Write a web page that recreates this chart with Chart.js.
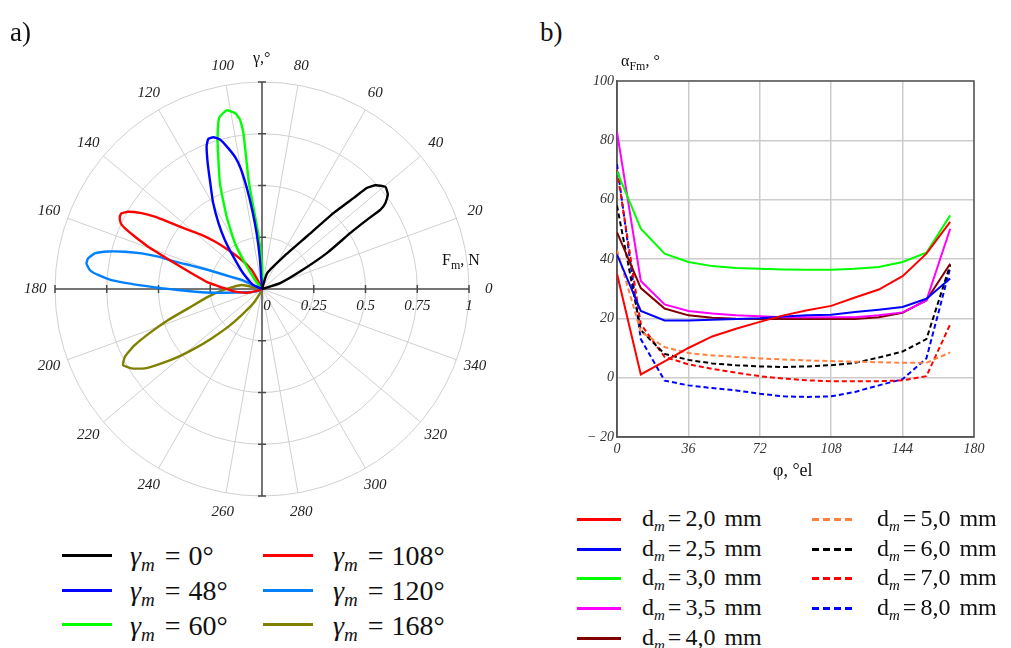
<!DOCTYPE html>
<html>
<head>
<meta charset="utf-8">
<script src="https://cdn.jsdelivr.net/npm/chart.js@4.4.0/dist/chart.umd.min.js"></script>
<style>
  body { margin: 0; background: #fff; }
  #page { position: relative; width: 1011px; height: 648px; overflow: hidden;
          font-family: "Liberation Serif", "Times New Roman", serif; color: #111; }
  canvas { position: absolute; }
  #polar { left: 0; top: 40px; }
  #curves { left: 580px; top: 60px; }
  .lbl { position: absolute; line-height: 1; white-space: nowrap; }
  .sub { position: relative; font-style: italic; }
  .sw { position: absolute; height: 3px; }
</style>
</head>
<body>
<div id="page">
  <canvas id="polar" width="530" height="500"></canvas>
  <canvas id="curves" width="420" height="420"></canvas>

  <div class="lbl" style="left:10px; top:19px; font-size:27px;">a)</div>
  <div class="lbl" style="left:540px; top:19px; font-size:27px;">b)</div>
  <div class="lbl" style="left:253px; top:50px; font-size:16px;">γ,°</div>
  <div class="lbl" style="left:442px; top:252px; font-size:16px;">F<span class="sub" style="font-style:normal; font-size:12px; top:4px;">m</span>, N</div>
  <div class="lbl" style="left:621px; top:53px; font-size:16px;">α<span class="sub" style="font-style:normal; font-size:12px; top:4px;">Fm</span>, °</div>
  <div class="lbl" style="left:773px; top:461px; font-size:18px;">φ, °el</div>

  <div id="legend-a"></div>
  <div id="legend-b"></div>
</div>

<script>
// Polar diagram: force lobes F_m(γ) for each rotor position γ_m
const gammaM = [0, 48, 60, 108, 120, 168];

const gamma0Angle = [10, 72, 56, 49.5, 46.7, 44.8, 43.9, 42.4, 39.6, 36.9, 34.9, 33.8, 33.4, 32.4, 29, 24.7, 18, 10];
const gamma0Force = [0, 0.08, 0.19, 0.335, 0.505, 0.625, 0.705, 0.743, 0.774, 0.76, 0.727, 0.689, 0.609, 0.506, 0.36, 0.204, 0.093, 0];

const gamma48Angle = [92, 94, 95.5, 97, 98.5, 100, 101.5, 103.5, 105.7, 107.8, 109.7, 111.2, 113.4, 116, 119.5, 123.5, 127, 131.5, 140, 155, 160];
const gamma48Force = [0, 0.15, 0.27, 0.38, 0.49, 0.59, 0.65, 0.70, 0.75, 0.77, 0.77, 0.74, 0.66, 0.57, 0.48, 0.38, 0.30, 0.21, 0.12, 0.05, 0];

const gamma60Angle = [85, 89, 94, 97, 96.8, 97.4, 98.7, 101.2, 104.1, 106.6, 111.7, 116, 120.6, 123.5, 128, 130];
const gamma60Force = [0, 0.1, 0.27, 0.52, 0.76, 0.825, 0.86, 0.88, 0.852, 0.752, 0.55, 0.39, 0.257, 0.149, 0.055, 0];

const gamma108Angle = [112, 116, 118.5, 125, 130.8, 134.8, 138.2, 141.3, 144, 146, 147.8, 150, 151.7, 153, 155, 156.1, 157.6, 159.6, 161.3, 163.6, 167.4, 173.3, 177.6, 185.6, 195, 201, 205];
const gamma108Force = [0, 0.048, 0.105, 0.171, 0.249, 0.323, 0.392, 0.457, 0.541, 0.625, 0.688, 0.747, 0.771, 0.771, 0.753, 0.725, 0.665, 0.587, 0.513, 0.439, 0.349, 0.261, 0.195, 0.131, 0.068, 0.022, 0];

const gamma120Angle = [150, 156, 159.3, 160.5, 161.6, 162.6, 162.7, 163.5, 164.8, 166.3, 168, 170, 171.7, 173.7, 175.1, 176.6, 177.6, 178.5, 179.6, 180.7, 182.3, 184.5, 187.7, 201, 205];
const gamma120Force = [0, 0.108, 0.191, 0.275, 0.359, 0.441, 0.525, 0.607, 0.687, 0.765, 0.826, 0.853, 0.857, 0.837, 0.795, 0.729, 0.647, 0.566, 0.485, 0.405, 0.324, 0.228, 0.132, 0.036, 0];

const gamma168Angle = [160, 168.9, 180.5, 188.1, 194.7, 198.3, 201.1, 203.8, 206.3, 208.7, 211.3, 214.1, 216.5, 219, 221.5, 224.4, 228.2, 232, 238.8, 245, 250];
const gamma168Force = [0, 0.1, 0.179, 0.262, 0.369, 0.477, 0.572, 0.672, 0.739, 0.765, 0.738, 0.684, 0.604, 0.521, 0.433, 0.341, 0.244, 0.16, 0.081, 0.023, 0];

const ringValues = [0.25, 0.5, 0.75, 1];
const ringLabels = ['0', '0.25', '0.5', '0.75', '1'];
const angleTicks = [0, 20, 40, 60, 80, 100, 120, 140, 160, 180, 200, 220, 240, 260, 280, 300, 320, 340];

// Angle of magnet field vs. electrical angle for each magnet diameter
const phi = [0, 12, 24, 36, 48, 60, 72, 84, 96, 108, 120, 132, 144, 156, 168];
const diameters = [2.0, 2.5, 3.0, 3.5, 4.0, 5.0, 6.0, 7.0, 8.0];
const alpha20 = [35, 1.1, 5.5, 10, 13.9, 16.5, 18.8, 21, 22.7, 24.2, 27, 29.7, 34.2, 41.8, 52.5];
const alpha25 = [41.5, 22.5, 19.3, 19.3, 19.5, 19.8, 20, 20.6, 21, 21.2, 22.1, 22.9, 23.8, 26.6, 33.4];
const alpha30 = [69.5, 50.2, 41.8, 39, 37.6, 37, 36.7, 36.5, 36.4, 36.4, 36.7, 37.3, 39, 42.1, 54.7];
const alpha35 = [82.8, 32.6, 24.7, 22.5, 21.6, 21, 20.7, 20.4, 20.4, 20.4, 20.4, 21, 22, 26, 50.2];
const alpha40 = [49, 30.2, 23.3, 21, 20.2, 19.9, 19.8, 19.8, 19.8, 19.8, 19.8, 20.4, 21.9, 26.1, 38.4];
const alpha50 = [43, 15.5, 10.3, 8.3, 7.5, 7, 6.5, 6.1, 5.8, 5.6, 5.4, 5.2, 5, 5, 8.5];
const alpha60 = [58, 16, 8, 6, 4.8, 4.2, 3.8, 3.6, 3.8, 4.2, 5, 6.8, 8.8, 13, 38];
const alpha70 = [70, 18, 7, 4.5, 3, 1.7, 0.5, -0.3, -0.9, -1.2, -1.2, -1.2, -0.9, 0.5, 18];
const alpha80 = [72, 13, -1, -2.6, -3.5, -4.3, -5.4, -6.3, -6.5, -6.3, -4.8, -2.6, -0.5, 6.5, 37];

// styles
const gammaColors = ['#000000', '#0000ff', '#00ff00', '#ff0000', '#0080ff', '#808000'];
const diamColors = ['#ff0000', '#0000ff', '#00ff00', '#ff00ff', '#800000', '#ff8040', '#000000', '#ff0000', '#0000ff'];
const diamDashed = [false, false, false, false, false, true, true, true, true];

function lobe(angles, forces) {
  return angles.map((a, i) => {
    const t = a * Math.PI / 180;
    return { x: forces[i] * Math.cos(t), y: forces[i] * Math.sin(t) };
  });
}

const lobes = [
  lobe(gamma0Angle, gamma0Force),
  lobe(gamma48Angle, gamma48Force),
  lobe(gamma60Angle, gamma60Force),
  lobe(gamma108Angle, gamma108Force),
  lobe(gamma120Angle, gamma120Force),
  lobe(gamma168Angle, gamma168Force)
];

const polarGrid = {
  id: "polarGrid",
  beforeDatasetsDraw(chart) {
    const { ctx } = chart;
    const xs = chart.scales.x, ys = chart.scales.y;
    const cx = xs.getPixelForValue(0), cy = ys.getPixelForValue(0);
    const R = xs.getPixelForValue(1) - cx;
    ctx.save();

    // rings and spokes
    ctx.strokeStyle = "#d0d0d0";
    ctx.lineWidth = 1;
    ringValues.forEach(v => {
      ctx.beginPath();
      ctx.arc(cx, cy, v * R, 0, 2 * Math.PI);
      ctx.stroke();
    });
    angleTicks.forEach(a => {
      if (a % 180 === 0) return;
      const t = a * Math.PI / 180;
      ctx.beginPath();
      ctx.moveTo(cx, cy);
      ctx.lineTo(cx + R * Math.cos(t), cy - R * Math.sin(t));
      ctx.stroke();
    });

    // main axes with ticks
    ctx.strokeStyle = "#4a4a4a";
    ctx.lineWidth = 1.5;
    ctx.beginPath();
    ctx.moveTo(cx - R, cy); ctx.lineTo(cx + R, cy);
    ctx.moveTo(cx, cy - R); ctx.lineTo(cx, cy + R);
    ringValues.forEach(v => {
      const d = v * R;
      ctx.moveTo(cx - d, cy - 4); ctx.lineTo(cx - d, cy + 4);
      ctx.moveTo(cx + d, cy - 4); ctx.lineTo(cx + d, cy + 4);
      ctx.moveTo(cx - 4, cy - d); ctx.lineTo(cx + 4, cy - d);
      ctx.moveTo(cx - 4, cy + d); ctx.lineTo(cx + 4, cy + d);
    });
    ctx.stroke();

    // angle labels
    ctx.fillStyle = "#222";
    ctx.font = 'italic 15px "Liberation Serif"';
    ctx.textAlign = "center";
    ctx.textBaseline = "middle";
    angleTicks.forEach(a => {
      const t = a * Math.PI / 180;
      ctx.fillText(String(a), cx + 1.095 * R * Math.cos(t), cy - 1.095 * R * Math.sin(t));
    });

    // radial labels
    [0].concat(ringValues).forEach((v, i) => {
      const px = xs.getPixelForValue(v) + (v === 0 ? 5 : 0);
      ctx.fillText(ringLabels[i], px, cy + 17);
    });
    ctx.restore();
  }
};

new Chart(document.getElementById("polar"), {
  type: "scatter",
  data: {
    datasets: lobes.map((pts, i) => ({
      label: "γm = " + gammaM[i] + "°",
      data: pts,
      showLine: true,
      fill: false,
      borderColor: gammaColors[i],
      borderWidth: 2.4,
      pointRadius: 0,
      tension: 0.15
    }))
  },
  options: {
    responsive: false,
    animation: false,
    layout: { padding: { left: 55, right: 61, top: 42, bottom: 44 } },
    plugins: { legend: { display: false }, tooltip: { enabled: false } },
    scales: {
      x: { type: "linear", min: -1, max: 1, display: false },
      y: { type: "linear", min: -1, max: 1, display: false }
    }
  },
  plugins: [polarGrid]
});

const alphaSeries = [alpha20, alpha25, alpha30, alpha35, alpha40, alpha50, alpha60, alpha70, alpha80];

const frame = {
  id: "frame",
  beforeDatasetsDraw(chart) {
    const { ctx, chartArea: a } = chart;
    ctx.save();
    ctx.strokeStyle = "#555";
    ctx.lineWidth = 1.5;
    ctx.strokeRect(a.left, a.top, a.right - a.left, a.bottom - a.top);
    ctx.restore();
  }
};

const tickFont = { family: "'Liberation Serif'", style: "italic", size: 14 };

new Chart(document.getElementById("curves"), {
  type: "line",
  data: {
    datasets: alphaSeries.map((vals, i) => ({
      label: "dm = " + diameters[i].toFixed(1).replace(".", ",") + " mm",
      data: phi.map((p, j) => ({ x: p, y: vals[j] })),
      borderColor: diamColors[i],
      borderWidth: 2,
      borderDash: diamDashed[i] ? [5, 3] : [],
      pointRadius: 0,
      fill: false,
      tension: 0
    }))
  },
  options: {
    responsive: false,
    animation: false,
    layout: { padding: { left: 0, right: 26, top: 21, bottom: 0 } },
    plugins: { legend: { display: false }, tooltip: { enabled: false } },
    scales: {
      x: {
        type: "linear", min: 0, max: 180,
        afterFit(scale) { scale.height = 43; },
        ticks: { stepSize: 36, font: tickFont, color: "#333", padding: 4 },
        grid: { color: "#cccccc", lineWidth: 1.5, drawTicks: false },
        border: { color: "#555", width: 1.5 }
      },
      y: {
        type: "linear", min: -20, max: 100,
        afterFit(scale) { scale.width = 37; },
        ticks: {
          stepSize: 20, font: tickFont, color: "#333", padding: 3,
          callback: v => v < 0 ? "\u2212 " + Math.abs(v) : String(v)
        },
        grid: { color: "#cccccc", lineWidth: 1.5, drawTicks: false },
        border: { color: "#555", width: 1.5 }
      }
    }
  },
  plugins: [frame]
});

// legends
const legendA = document.getElementById("legend-a");
gammaM.forEach((g, i) => {
  const col = i < 3 ? 0 : 1, row = i % 3;
  const swY = [555, 590, 624][row];
  const base = [565, 600, 635][row];
  const sw = document.createElement("div");
  sw.className = "sw";
  sw.style.cssText = `left:${[62, 263][col]}px; top:${swY - 1.5}px; width:50px; background:${gammaColors[i]};`;
  legendA.appendChild(sw);
  const t = document.createElement("div");
  t.className = "lbl";
  t.style.cssText = `left:${[130, 333][col]}px; top:${base - 0.8375 * 28}px; font-size:28px;`;
  t.innerHTML = `<i>γ</i><span class="sub" style="font-size:19px; top:6px;">m</span><span style="margin:0 8px 0 10px;">=</span>${g}°`;
  legendA.appendChild(t);
});

const legendB = document.getElementById("legend-b");
diameters.forEach((d, i) => {
  const col = i < 5 ? 0 : 1, row = i < 5 ? i : i - 5;
  const sw = document.createElement("div");
  sw.className = "sw";
  const c = diamColors[i];
  const bg = diamDashed[i]
    ? `repeating-linear-gradient(to right, ${c} 0 7px, transparent 7px 11px)`
    : c;
  sw.style.cssText = `left:${[577, 812][col]}px; top:${519.3 + row * 29.7 - 1.5}px; width:${[44, 40][col]}px; background:${bg};`;
  legendB.appendChild(sw);
  const t = document.createElement("div");
  t.className = "lbl";
  t.style.cssText = `left:${[642, 877][col]}px; top:${526 + row * 29.7 - 0.8375 * 24}px; font-size:24px;`;
  t.innerHTML = `d<span class="sub" style="font-size:15px; top:5px;">m</span><span style="margin:0 4px 0 3px;">=</span>${d.toFixed(1).replace(".", ",")}<span style="margin-left:9px;">mm</span>`;
  legendB.appendChild(t);
});
</script>
</body>
</html>
